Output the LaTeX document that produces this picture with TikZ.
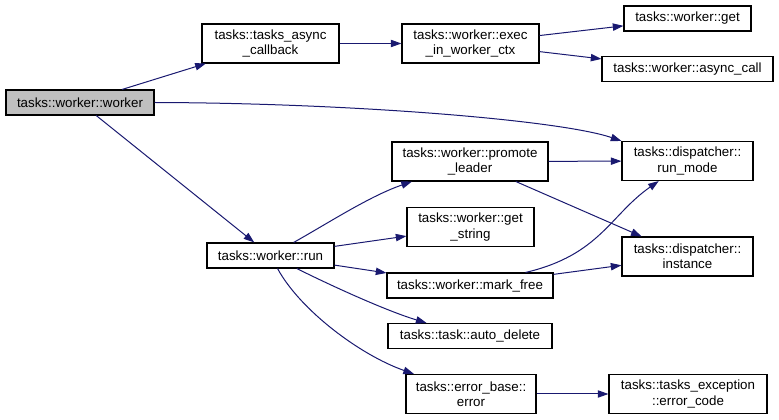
\documentclass[tikz,border=0pt]{standalone}
\usepackage{fontspec}
\setmainfont{Liberation Sans}
\usetikzlibrary{arrows.meta}
\definecolor{edgeblue}{HTML}{191970}
\definecolor{nodegrey}{HTML}{BFBFBF}
\tikzset{
  box/.style={draw=black, line width=0.8pt, fill=white, align=center,
    font=\fontsize{10}{11.5}\selectfont, inner sep=0pt,
    minimum width=#1*0.75pt, minimum height=18.75pt},
  box2/.style={box=#1, minimum height=29.25pt},
  edge/.style={draw=edgeblue, line width=0.75pt, -{Triangle[length=8pt,width=5.5pt]}}
}
\begin{document}
\begin{tikzpicture}[x=0.75pt,y=-0.75pt]
\useasboundingbox (0,0) rectangle (779,420);

\node[box=148, fill=nodegrey] (worker) at (80,102.5) {tasks::worker::worker};
\node[box2=137] (callback) at (270.5,43.5) {tasks::tasks\_async\\\_callback};
\node[box2=137] (exec) at (470.5,43.5) {tasks::worker::exec\\\_in\_worker\_ctx};
\node[box=127] (get) at (687.5,18.5) {tasks::worker::get};
\node[box=171] (asynccall) at (687.5,69) {tasks::worker::async\_call};
\node[box2=131] (runmode) at (687.5,161) {tasks::dispatcher::\\run\_mode};
\node[box2=131] (instance) at (687.5,256.5) {tasks::dispatcher::\\instance};
\node[box2=156] (promote) at (470,161.5) {tasks::worker::promote\\\_leader};
\node[box2=127] (getstring) at (470.5,227) {tasks::worker::get\\\_string};
\node[box=127] (run) at (270.5,255.5) {tasks::worker::run};
\node[box=166] (markfree) at (470,285.5) {tasks::worker::mark\_free};
\node[box=164] (autodelete) at (470,336) {tasks::task::auto\_delete};
\node[box2=130] (error) at (471,394) {tasks::error\_base::\\error};
\node[box2=158] (errorcode) at (688,394) {tasks::tasks\_exception\\::error\_code};

\draw[edge] (worker) -- (callback);
\draw[edge] (callback) -- (exec);
\draw[edge] (exec) -- (get);
\draw[edge] (exec) -- (asynccall);
\draw[edge] (worker.east) .. controls (350,103) and (560,120) .. (runmode.north west);
\draw[edge] (worker) -- (run);
\draw[edge] (run) .. controls (330,222) and (370,196) .. (promote);
\draw[edge] (run) -- (getstring);
\draw[edge] (run) -- (markfree);
\draw[edge] (run) .. controls (340,290) and (390,312) .. (autodelete);
\draw[edge] (run) .. controls (300,310) and (360,355) .. (error);
\draw[edge] (promote) -- (runmode);
\draw[edge] (promote) -- (instance);
\draw[edge] (markfree) .. controls (600,255) and (610,215) .. (runmode);
\draw[edge] (markfree) -- (instance);
\draw[edge] (error) -- (errorcode);
\end{tikzpicture}
\end{document}
